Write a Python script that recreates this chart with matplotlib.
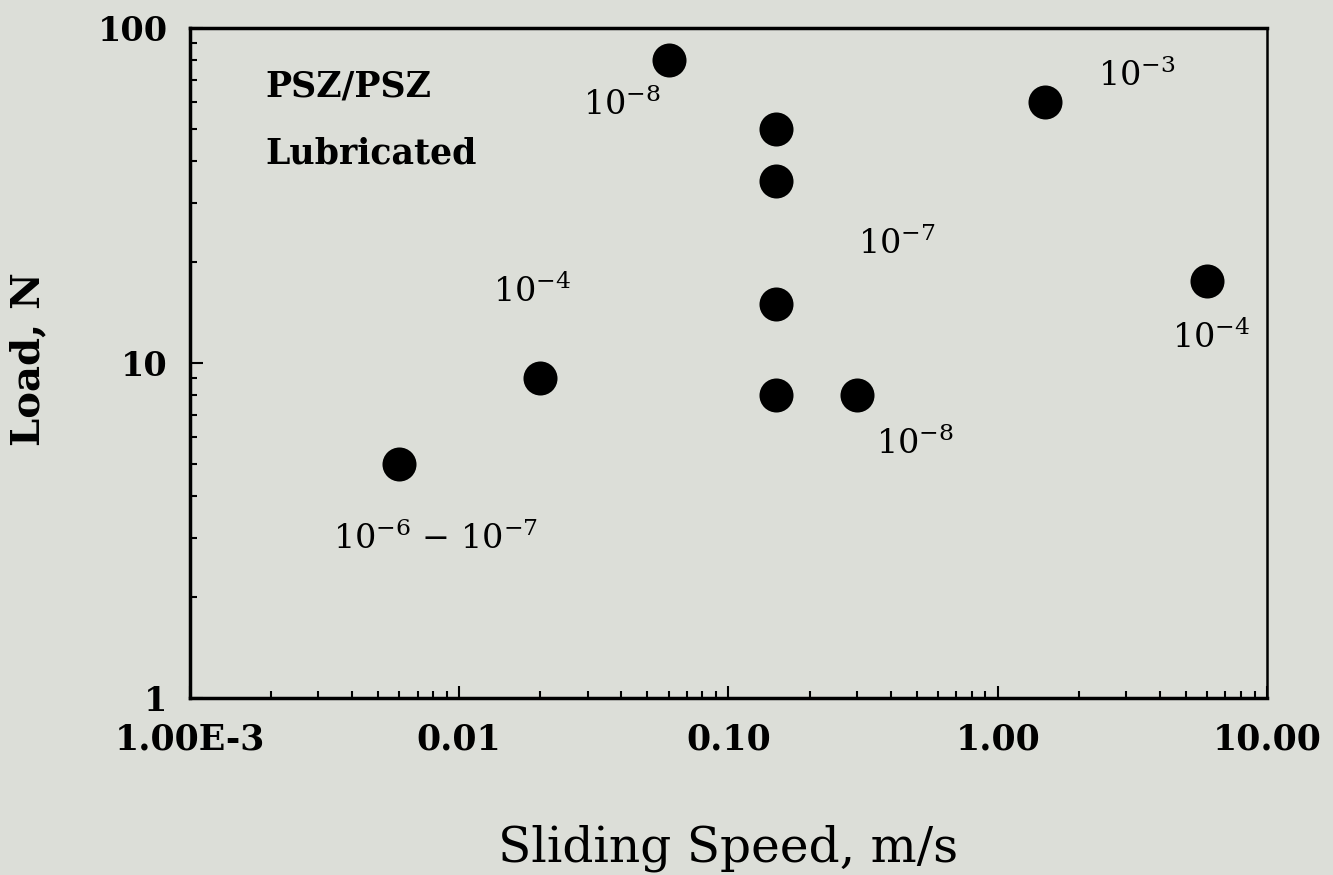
import matplotlib
matplotlib.use("Agg")
import matplotlib.pyplot as plt
from matplotlib.ticker import FixedLocator, FixedFormatter, LogLocator, NullFormatter

plt.rcParams['font.family'] = 'DejaVu Serif'
plt.rcParams['mathtext.fontset'] = 'dejavuserif'

# sliding speed (m/s) and load (N)
speed = [0.006, 0.02, 0.06, 0.15, 0.15, 0.15, 0.15, 0.3, 1.5, 6.0]
load = [5, 9, 80, 50, 35, 15, 8, 8, 60, 17.5]

# wear coefficient labels: (point index, text, offset in pixels)
wear_labels = [
    (0, r'$10^{-6}$ $-$ $10^{-7}$', (36, -75)),
    (1, r'$10^{-4}$', (-8, 86)),
    (2, r'$10^{-8}$', (-47, -44)),
    (4, r'$10^{-7}$', (121, -63)),
    (7, r'$10^{-8}$', (58, -49)),
    (8, r'$10^{-3}$', (92, 26)),
    (9, r'$10^{-4}$', (4, -56)),
]

x_ticks = [1e-3, 1e-2, 1e-1, 1, 10]
x_ticklabels = ['1.00E-3', '0.01', '0.10', '1.00', '10.00']
y_ticks = [1, 10, 100]
y_ticklabels = ['1', '10', '100']

bg = '#dcded8'
fig = plt.figure(figsize=(13.33, 8.75), dpi=100, facecolor=bg)
ax = fig.add_axes([0.1425, 0.2026, 0.808, 0.7654])
ax.set_facecolor(bg)

ax.plot(speed, load, 'o', color='black', markersize=24.5, markeredgewidth=0)

ax.set_xscale('log')
ax.set_yscale('log')
ax.set_xlim(1e-3, 10)
ax.set_ylim(1, 100)

ax.xaxis.set_major_locator(FixedLocator(x_ticks))
ax.xaxis.set_major_formatter(FixedFormatter(x_ticklabels))
ax.yaxis.set_major_locator(FixedLocator(y_ticks))
ax.yaxis.set_major_formatter(FixedFormatter(y_ticklabels))
ax.xaxis.set_minor_locator(LogLocator(base=10, subs=range(2, 10)))
ax.yaxis.set_minor_locator(LogLocator(base=10, subs=range(2, 10)))
ax.xaxis.set_minor_formatter(NullFormatter())
ax.yaxis.set_minor_formatter(NullFormatter())

ax.tick_params(which='both', direction='in', top=False, right=False, width=1.5)
ax.tick_params(which='major', length=9)
ax.tick_params(which='minor', length=5)
ax.tick_params(axis='x', labelsize=25, pad=18)
ax.tick_params(axis='y', labelsize=24, pad=16)
for lab in ax.get_xticklabels() + ax.get_yticklabels():
    lab.set_fontweight('bold')

for side in ['left', 'bottom', 'top']:
    ax.spines[side].set_linewidth(2.5)
ax.spines['right'].set_linewidth(1.8)

for i, txt, off in wear_labels:
    ax.annotate(txt, xy=(speed[i], load[i]), xytext=off, textcoords='offset pixels',
                ha='center', va='center', fontsize=24)

ax.text(0.0696, 0.897, 'PSZ/PSZ', transform=ax.transAxes, fontsize=25,
        fontweight='bold', ha='left', va='baseline')
ax.text(0.0696, 0.798, 'Lubricated', transform=ax.transAxes, fontsize=25,
        fontweight='bold', ha='left', va='baseline')

ax.set_xlabel('Sliding Speed, m/s', fontsize=35)
ax.xaxis.set_label_coords(0.5, -0.19)
ax.set_ylabel('Load, N', fontsize=29, fontweight='bold')
ax.yaxis.set_label_coords(-0.132, 0.505)

fig.savefig('out.png', dpi=100, facecolor=bg)
